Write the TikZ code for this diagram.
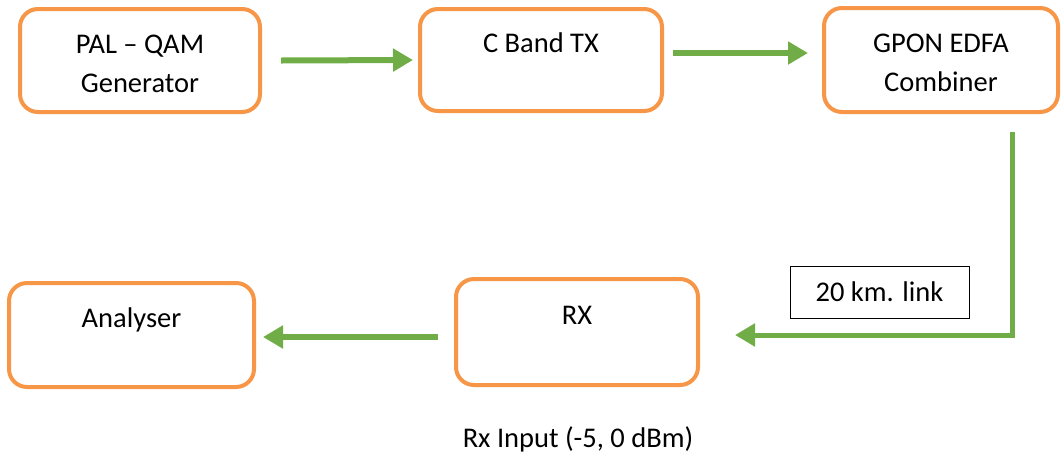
\documentclass[tikz,border=0pt]{standalone}
\usepackage{fontspec}
\setmainfont{Carlito}
\usetikzlibrary{arrows.meta,calc}
\definecolor{boxorange}{HTML}{F79646}
\definecolor{arrgreen}{HTML}{70AD47}
\newcommand{\topstrutx}{\rule{0pt}{30pt}}
\newcommand{\botstrutx}{\rule[-6pt]{0pt}{6pt}}
\begin{document}
\begin{tikzpicture}[x=1pt,y=-1pt,
  blockbox/.style={draw=boxorange,line width=4pt,rounded corners=18pt,fill=white,
    align=center,inner sep=0pt,font=\fontsize{28.5}{39}\selectfont},
  arr/.style={draw=arrgreen,line width=6pt,-{Triangle[length=20pt,width=22pt]}},
  linkarr/.style={draw=arrgreen,line width=5pt,-{Triangle[length=20pt,width=22pt]}},
  lbl/.style={font=\fontsize{28.5}{40}\selectfont,inner sep=0pt}]
\useasboundingbox (0,0) rectangle (1063,459);
\node[blockbox,minimum width=240pt,minimum height=103pt] (b1) at (140,60.5) {\topstrutx PAL -- QAM\\Generator\botstrutx};
\node[blockbox,minimum width=242pt,minimum height=102pt] (b2) at (541,60) {\topstrutx C Band TX\\\botstrutx};
\node[blockbox,minimum width=234pt,minimum height=104pt] (b3) at (941,60) {\topstrutx GPON EDFA\\Combiner\botstrutx};
\node[blockbox,minimum width=245pt,minimum height=104pt] (an) at (131.5,335) {\topstrutx Analyser\\\botstrutx};
\node[blockbox,minimum width=242pt,minimum height=106pt] (rx) at (577,332) {\topstrutx RX\\\botstrutx};
\node[draw=black,line width=1pt,minimum width=179pt,minimum height=52pt,lbl] (lk) at (879.5,292) {20 km. link};
\node[lbl] (cap) at (578,439) {Rx Input (-5, 0 dBm)};
\draw[arr] ($(b1.east)+(19,0)$) -- ($(b2.west)+(-5,0)$);
\draw[arr] ($(b2.east)+(9,-7)$) coordinate (a2s) -- ($(a2s -| b3.west)+(-14,0)$);
\coordinate (ltop) at ($(b3.south)+(71,18)$);
\coordinate (lend) at ($(rx.east)+(35,3)$);
\draw[linkarr] (ltop) |- (lend);
\draw[arr] ($(rx.west)+(-16,5)$) coordinate (a4s) -- ($(a4s -| an.east)+(7,0)$);
\end{tikzpicture}
\end{document}
